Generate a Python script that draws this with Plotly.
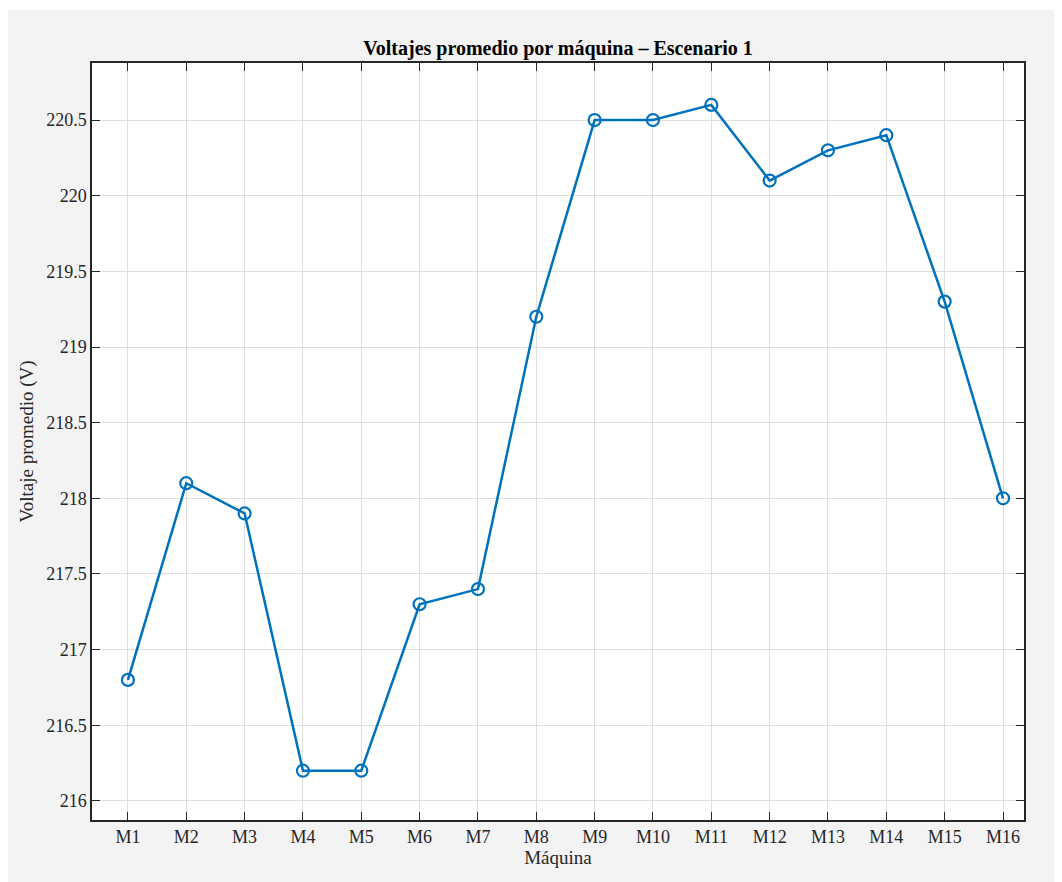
import plotly.graph_objects as go

maquinas = ["M1", "M2", "M3", "M4", "M5", "M6", "M7", "M8",
            "M9", "M10", "M11", "M12", "M13", "M14", "M15", "M16"]
voltajes = [216.8, 218.1, 217.9, 216.2, 216.2, 217.3, 217.4, 219.2,
            220.5, 220.5, 220.6, 220.1, 220.3, 220.4, 219.3, 218.0]

# page has an 8px body margin; figure coords = screen coords - 8
OFF = 8
W, H = 1062, 882
L, R, T, B = 92 - OFF, 1024 - OFF, 63 - OFF, 820 - OFF
pw, ph = R - L, B - T

font_family = "Liberation Serif, Times New Roman, serif"
axis_col = "#262626"

fig = go.Figure()
fig.add_trace(go.Scatter(
    x=maquinas, y=voltajes, mode="lines+markers",
    line=dict(color="#0072BD", width=2.5),
    marker=dict(symbol="circle-open", size=12, color="#0072BD",
                line=dict(width=2.2, color="#0072BD")),
    showlegend=False, hoverinfo="x+y",
))

fig.update_layout(
    width=W, height=H,
    margin=dict(l=L, r=W - R, t=T, b=H - B),
    paper_bgcolor="#f3f3f3",
    plot_bgcolor="white",
    font=dict(family=font_family, size=18, color=axis_col),
    title=dict(text="<b>Voltajes promedio por máquina – Escenario 1</b>",
               x=(L + R) / 2 / W, xanchor="center",
               y=1 - (48 - OFF) / H, yanchor="middle",
               font=dict(family=font_family, size=20, color="black")),
    shapes=[
        # thin white strip at the very top (reference gray starts 2px lower)
        dict(type="rect", xref="paper", yref="paper",
             x0=-L / pw, x1=(W - L) / pw,
             y0=1 + (T - 2) / ph, y1=1 + T / ph,
             fillcolor="white", line=dict(width=0), layer="below"),
    ],
)

fig.update_xaxes(
    type="category",
    range=[-0.616, 15.36],
    showline=True, linecolor=axis_col, linewidth=1.5, mirror="ticks",
    ticks="inside", ticklen=8, tickwidth=1.2, tickcolor=axis_col,
    showgrid=True, gridcolor="#dedede", gridwidth=1,
    zeroline=False,
    tickfont=dict(family=font_family, size=18, color=axis_col),
    title=dict(text="Máquina", standoff=2,
               font=dict(family=font_family, size=19, color=axis_col)),
)
fig.update_yaxes(
    range=[215.874, 220.877],
    dtick=0.5, tick0=216,
    showline=True, linecolor=axis_col, linewidth=1.5, mirror="ticks",
    ticks="inside", ticklen=8, tickwidth=1.2, tickcolor=axis_col,
    showgrid=True, gridcolor="#dedede", gridwidth=1,
    zeroline=False,
    tickfont=dict(family=font_family, size=18, color=axis_col),
    title=dict(text="Voltaje promedio (V)", standoff=8,
               font=dict(family=font_family, size=19, color=axis_col)),
)

fig.write_html("out.html")
